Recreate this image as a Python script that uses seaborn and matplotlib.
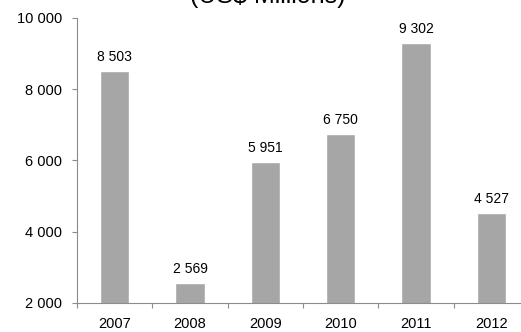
import matplotlib
matplotlib.use("Agg")
import matplotlib.pyplot as plt
import seaborn as sns
import pandas as pd
from matplotlib.ticker import FuncFormatter

years = ["2007", "2008", "2009", "2010", "2011", "2012"]
values = [8503, 2569, 5951, 6750, 9302, 4527]
title = "(US$ Millions)"

df = pd.DataFrame({"year": years, "value": values})

sns.set_theme(style="white")
plt.rcParams["font.family"] = ["Liberation Sans", "DejaVu Sans"]

fig = plt.figure(figsize=(5.21, 3.32), dpi=100)
ax = fig.add_axes([77/521, 1 - 303/332, 452/521, (303 - 18)/332])

sns.barplot(data=df, x="year", y="value", color="#A6A6A6", saturation=1,
            width=0.39, ax=ax)

def fmt(v):
    return f"{int(round(v)):,}".replace(",", " ")

ax.set_ylim(2000, 10000)
ax.set_yticks([2000, 4000, 6000, 8000, 10000])
ax.yaxis.set_major_formatter(FuncFormatter(lambda v, p: fmt(v)))
ax.set_xlim(-0.5, len(years) - 0.5)

for c in ax.containers:
    ax.bar_label(c, labels=[fmt(v) for v in values], padding=5, fontsize=10, color="#000000")

for s in ["top", "right"]:
    ax.spines[s].set_visible(False)
for s in ["left", "bottom"]:
    ax.spines[s].set_color("#8C8C8C")
    ax.spines[s].set_linewidth(0.8)

ax.set_xlabel("")
ax.set_ylabel("")
ax.tick_params(axis="y", which="both", left=True, length=3.5, width=0.8, color="#8C8C8C", labelsize=10.5, pad=7, labelcolor="#000000")
ax.tick_params(axis="x", which="major", bottom=False, labelsize=10.5, pad=4, labelcolor="#000000")
ax.set_xticks(range(len(years)))
ax.set_xticks([i - 0.5 for i in range(len(years) + 1)], minor=True)
ax.tick_params(axis="x", which="minor", bottom=True, length=3.5, width=0.8, color="#8C8C8C")

fig.text(267.5/521, 1 - 3/332, title, ha="center", va="baseline", fontsize=18, color="#000000")

fig.savefig("out.png", dpi=100)
